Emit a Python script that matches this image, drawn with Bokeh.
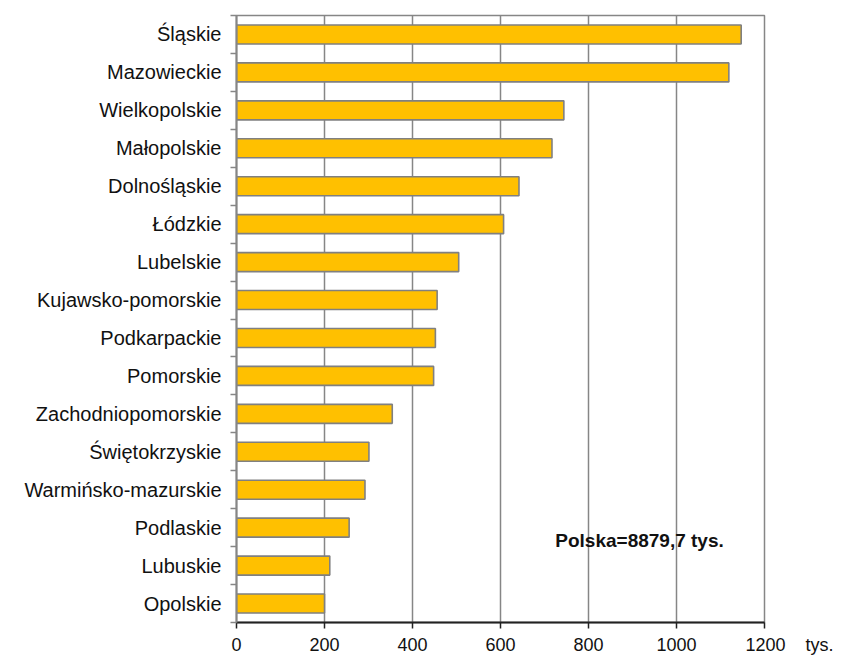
from bokeh.plotting import figure
from bokeh.models import FixedTicker, Range1d, Label, CustomJSTickFormatter, ColumnDataSource
from bokeh.embed import file_html
from bokeh.resources import INLINE

# data (top to bottom as drawn)
regions = ["Śląskie", "Mazowieckie", "Wielkopolskie", "Małopolskie", "Dolnośląskie",
           "Łódzkie", "Lubelskie", "Kujawsko-pomorskie", "Podkarpackie", "Pomorskie",
           "Zachodniopomorskie", "Świętokrzyskie", "Warmińsko-mazurskie", "Podlaskie",
           "Lubuskie", "Opolskie"]
values = [1147, 1119, 744, 717, 642, 607, 505, 456, 452, 448, 354, 301, 292, 256, 212, 200]
x_ticks = [0, 200, 400, 600, 800, 1000, 1200]
unit_label = "tys."
note = "Polska=8879,7 tys."

n = len(regions)
names_bottom_up = list(reversed(regions))
ypos = [n - 1 - i + 0.5 for i in range(n)]

src = ColumnDataSource(dict(y=ypos, v=values, name=regions))

p = figure(width=841, height=657, output_backend="svg", toolbar_location=None,
           x_range=Range1d(0, 1200), y_range=Range1d(0, n),
           min_border_left=236, min_border_right=77, min_border_top=15, min_border_bottom=35)
p.background_fill_color = "white"
p.border_fill_color = "white"
p.outline_line_color = "#868686"
p.outline_line_width = 1.5

p.hbar(y="y", right="v", left=0, height=0.5, source=src,
       fill_color="#FFC000", line_color="#808080", line_width=1.6)

# x axis; the unit is appended to the last tick label, balanced with non-breaking spaces
NB = "\u00a0"
last = x_ticks[-1]
p.xaxis.ticker = FixedTicker(ticks=x_ticks)
p.xaxis.major_label_overrides = {last: NB * 10 + str(last) + NB * 4 + unit_label}
p.xaxis.axis_line_color = "#222222"
p.xaxis.axis_line_width = 2
p.xaxis.major_tick_line_color = "#222222"
p.xaxis.major_tick_line_width = 1.5
p.xaxis.major_tick_out = 6
p.xaxis.major_tick_in = 0
p.xaxis.minor_tick_line_color = None
p.xaxis.major_label_text_font = "Liberation Sans"
p.xaxis.major_label_text_font_size = "18px"
p.xaxis.major_label_text_color = "#111111"
p.xaxis.major_label_standoff = 6

p.xgrid.ticker = FixedTicker(ticks=x_ticks)
p.xgrid.grid_line_color = "#868686"
p.xgrid.grid_line_width = 1.5
p.ygrid.grid_line_color = None

# y axis: labels at centers, ticks at boundaries
p.yaxis.ticker = FixedTicker(ticks=[i + 0.5 for i in range(n)],
                             minor_ticks=[float(i) for i in range(n + 1)])
p.yaxis.formatter = CustomJSTickFormatter(args=dict(names=names_bottom_up),
                                          code="return names[Math.floor(tick)];")
p.yaxis.axis_line_color = "#868686"
p.yaxis.axis_line_width = 2
p.yaxis.major_tick_line_color = None
p.yaxis.major_tick_out = 0
p.yaxis.major_tick_in = 0
p.yaxis.minor_tick_line_color = "#868686"
p.yaxis.minor_tick_line_width = 1.5
p.yaxis.minor_tick_out = 6
p.yaxis.minor_tick_in = 0
p.yaxis.major_label_text_font = "Liberation Sans"
p.yaxis.major_label_text_font_size = "20px"
p.yaxis.major_label_text_color = "#111111"
p.yaxis.major_label_standoff = 9

p.add_layout(Label(x=916, y=2.16, text=note, text_font="Liberation Sans",
                   text_font_size="19px", text_font_style="bold", text_color="#111111",
                   text_align="center", text_baseline="middle"))

open("out.html", "w").write(file_html(p, INLINE))
